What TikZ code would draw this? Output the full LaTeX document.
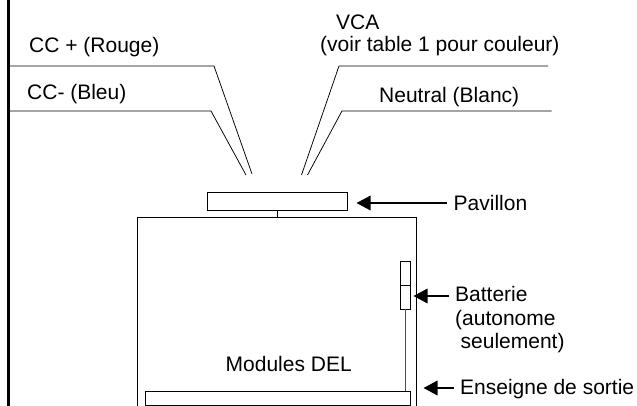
\documentclass[tikz,border=0pt]{standalone}
\usepackage{fontspec}
\setmainfont{Liberation Sans}
\usetikzlibrary{arrows.meta}
\begin{document}
\begin{tikzpicture}[x=1pt,y=-1pt,
  wire/.style={draw=black,line width=0.75pt,line join=miter},
  box/.style={draw=black,line width=0.8pt,fill=white,inner sep=0pt,minimum width=0pt},
  pointer/.style={draw=black,line width=1.6pt,-{Triangle[length=14pt,width=14.5pt]},shorten >=-0.5pt},
  lbl/.style={font=\fontsize{21}{21}\selectfont,inner sep=0pt,anchor=base west}]
\useasboundingbox (0,0) rectangle (637,406);
\begin{scope}
\clip (0,0) rectangle (637,406);
\draw[line width=3.2pt] (8.5,0) -- (8.5,406);
% wires
\coordinate (w1a) at (10,66); \coordinate (w1b) at (214,66); \coordinate (w1c) at (252,174);
\coordinate (w2a) at (10,111); \coordinate (w2b) at (211,111); \coordinate (w2c) at (246,175);
\coordinate (w3a) at (548,66); \coordinate (w3b) at (339,66); \coordinate (w3c) at (301.5,175);
\coordinate (w4a) at (551.5,111); \coordinate (w4b) at (342,111); \coordinate (w4c) at (307.5,175);
\draw[wire] (w1a) -- (w1b) -- (w1c);
\draw[wire] (w2a) -- (w2b) -- (w2c);
\draw[wire] (w3a) -- (w3b) -- (w3c);
\draw[wire] (w4a) -- (w4b) -- (w4c);
% boxes
\draw[box] (137,410) -- (137,217) -- (416.5,217) -- (416.5,410);
\node[box,minimum width=139.5pt,minimum height=18pt,anchor=north west] (pav) at (207,192.5) {};
\draw[wire] (277,210.5) -- (277,217);
\node[box,minimum width=265.5pt,minimum height=14.5pt,anchor=north west] (ens) at (144.5,390.5) {};
\node[box,minimum width=10.5pt,minimum height=24pt,anchor=north west] (bat1) at (399.5,260.5) {};
\node[box,minimum width=10.5pt,minimum height=24pt,anchor=north west] (bat2) at (399.5,284.5) {};
\draw[draw=black!70,line width=1.1pt] (bat2.south) -- (bat2.south |- ens.north);
% labels
\node[lbl] (t1) at (29,53) {CC + (Rouge)};
\node[lbl] (t2) at (27,100) {CC- (Bleu)};
\node[lbl] (t3) at (336,30) {VCA};
\node[lbl] (t4) at (320,52) {(voir table 1 pour couleur)};
\node[lbl] (t5) at (379,103) {Neutral (Blanc)};
\node[lbl] (t6) at (453.5,211) {Pavillon};
\node[lbl] (t7) at (455,301) {Batterie};
\node[lbl] (t8) at (455,325) {(autonome};
\node[lbl] (t9) at (460.5,348) {seulement)};
\node[lbl] (t10) at (225.5,371) {Modules DEL};
\node[lbl] (t11) at (460,394) {Enseigne de sortie};
\end{scope}
% pointers
\coordinate (p1) at (447,203); \coordinate (p2) at (449,296); \coordinate (p3) at (454,388);
\coordinate (h1) at (357,203); \coordinate (h2) at (414,296); \coordinate (h3) at (424,388);
\draw[pointer] (p1) -- (h1);
\draw[pointer] (p2) -- (h2);
\draw[pointer] (p3) -- (h3);
\end{tikzpicture}
\end{document}
